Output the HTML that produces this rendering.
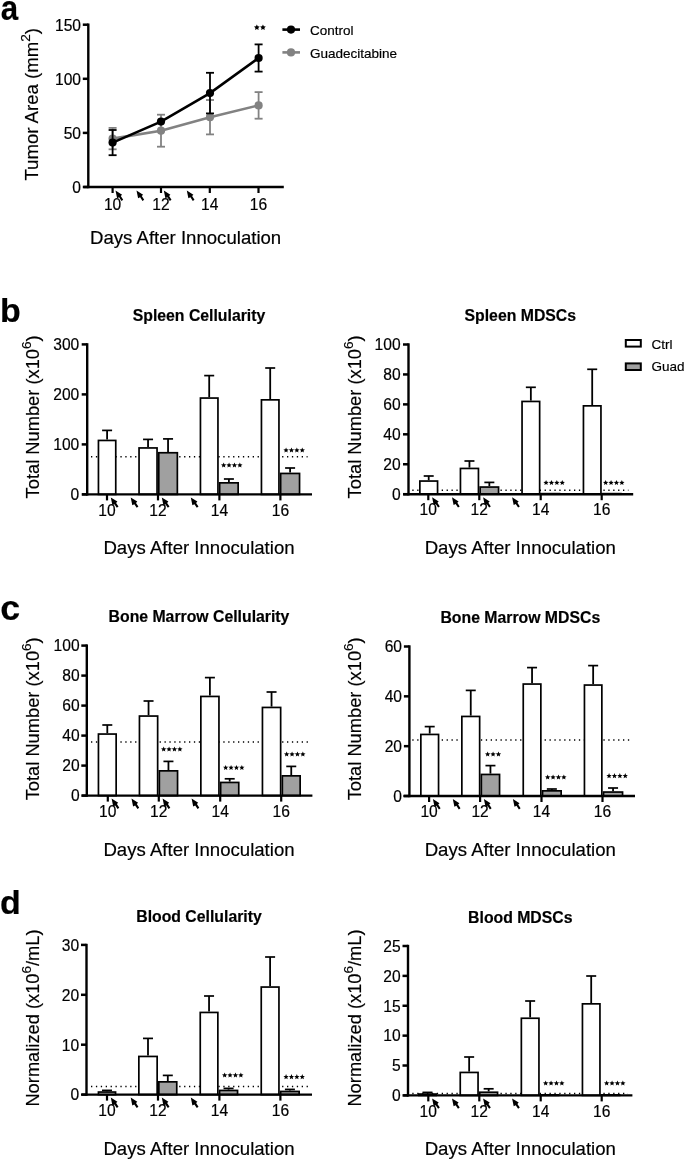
<!DOCTYPE html>
<html><head><meta charset="utf-8"><title>Figure</title>
<style>
html,body{margin:0;padding:0;background:#fff;width:685px;height:1160px;overflow:hidden}
svg{display:block;font-family:"Liberation Sans", sans-serif;fill:#000;filter:grayscale(1)}
text{fill:#000;stroke:#000;stroke-width:0.18px}
</style></head><body>
<svg width="685" height="1160" viewBox="0 0 685 1160">
<rect width="685" height="1160" fill="#fff"/>
<text transform="translate(0.7,19.9) scale(0.92,1.04)" x="0" y="0" font-size="34" font-weight="bold">a</text>
<text x="0" y="322" font-size="34" text-anchor="start" font-weight="bold" >b</text>
<text transform="translate(0.2,620) scale(1.05,1.05)" x="0" y="0" font-size="34" font-weight="bold">c</text>
<text x="0" y="914" font-size="34" text-anchor="start" font-weight="bold" >d</text>
<line x1="88.3" y1="23.5" x2="88.3" y2="188.2" stroke="#000" stroke-width="2.4" />
<line x1="82.8" y1="24.7" x2="88.3" y2="24.7" stroke="#000" stroke-width="2.5" />
<text x="81.0" y="30.5" font-size="15.6" text-anchor="end" font-weight="normal" >150</text>
<line x1="82.8" y1="78.8" x2="88.3" y2="78.8" stroke="#000" stroke-width="2.5" />
<text x="81.0" y="84.6" font-size="15.6" text-anchor="end" font-weight="normal" >100</text>
<line x1="82.8" y1="132.9" x2="88.3" y2="132.9" stroke="#000" stroke-width="2.5" />
<text x="81.0" y="138.7" font-size="15.6" text-anchor="end" font-weight="normal" >50</text>
<line x1="82.8" y1="187.0" x2="88.3" y2="187.0" stroke="#000" stroke-width="2.5" />
<text x="81.0" y="192.8" font-size="15.6" text-anchor="end" font-weight="normal" >0</text>
<line x1="83.5" y1="187.0" x2="283.8" y2="187.0" stroke="#000" stroke-width="2.4" />
<line x1="112.6" y1="187.0" x2="112.6" y2="193.0" stroke="#000" stroke-width="2.2" />
<text x="112.6" y="209.6" font-size="15.6" text-anchor="middle" font-weight="normal" >10</text>
<line x1="161" y1="187.0" x2="161" y2="193.0" stroke="#000" stroke-width="2.2" />
<text x="161" y="209.6" font-size="15.6" text-anchor="middle" font-weight="normal" >12</text>
<line x1="209.8" y1="187.0" x2="209.8" y2="193.0" stroke="#000" stroke-width="2.2" />
<text x="209.8" y="209.6" font-size="15.6" text-anchor="middle" font-weight="normal" >14</text>
<line x1="258.5" y1="187.0" x2="258.5" y2="193.0" stroke="#000" stroke-width="2.2" />
<text x="258.5" y="209.6" font-size="15.6" text-anchor="middle" font-weight="normal" >16</text>
<text transform="translate(38.2,104.3) rotate(-90)" x="0" y="0" font-size="18.6" text-anchor="middle">Tumor Area (mm<tspan font-size="13.5" dy="-7.8">2</tspan><tspan dy="7.8">)</tspan></text>
<text x="185.6" y="244" font-size="18.6" text-anchor="middle" font-weight="normal" >Days After Innoculation</text>
<path transform="translate(115.5,190.5)" d="M0,0 L6.6,4.2 L5.3,5.5 L7.7,9.2 L6.0,10.4 L3.6,6.8 L1.6,7.8 Z" fill="#000"/>
<path transform="translate(136.5,190.5)" d="M0,0 L6.6,4.2 L5.3,5.5 L7.7,9.2 L6.0,10.4 L3.6,6.8 L1.6,7.8 Z" fill="#000"/>
<path transform="translate(163.8,190.5)" d="M0,0 L6.6,4.2 L5.3,5.5 L7.7,9.2 L6.0,10.4 L3.6,6.8 L1.6,7.8 Z" fill="#000"/>
<path transform="translate(186.8,190.5)" d="M0,0 L6.6,4.2 L5.3,5.5 L7.7,9.2 L6.0,10.4 L3.6,6.8 L1.6,7.8 Z" fill="#000"/>
<line x1="112.6" y1="127.9" x2="112.6" y2="149.3" stroke="#828282" stroke-width="1.8" />
<line x1="108.6" y1="127.9" x2="116.6" y2="127.9" stroke="#828282" stroke-width="1.8" />
<line x1="108.6" y1="149.3" x2="116.6" y2="149.3" stroke="#828282" stroke-width="1.8" />
<line x1="161" y1="114.7" x2="161" y2="146.7" stroke="#828282" stroke-width="1.8" />
<line x1="157" y1="114.7" x2="165" y2="114.7" stroke="#828282" stroke-width="1.8" />
<line x1="157" y1="146.7" x2="165" y2="146.7" stroke="#828282" stroke-width="1.8" />
<line x1="210" y1="100.0" x2="210" y2="134.4" stroke="#828282" stroke-width="1.8" />
<line x1="206" y1="100.0" x2="214" y2="100.0" stroke="#828282" stroke-width="1.8" />
<line x1="206" y1="134.4" x2="214" y2="134.4" stroke="#828282" stroke-width="1.8" />
<line x1="258.6" y1="92.1" x2="258.6" y2="118.7" stroke="#828282" stroke-width="1.8" />
<line x1="254.6" y1="92.1" x2="262.6" y2="92.1" stroke="#828282" stroke-width="1.8" />
<line x1="254.6" y1="118.7" x2="262.6" y2="118.7" stroke="#828282" stroke-width="1.8" />
<path d="M112.6,138.6 L161,130.7 L210,117.2 L258.6,105.4" fill="none" stroke="#828282" stroke-width="2.6"/>
<circle cx="112.6" cy="138.6" r="4.1" fill="#828282"/>
<circle cx="161" cy="130.7" r="4.1" fill="#828282"/>
<circle cx="210" cy="117.2" r="4.1" fill="#828282"/>
<circle cx="258.6" cy="105.4" r="4.1" fill="#828282"/>
<line x1="112.6" y1="130.0" x2="112.6" y2="155.2" stroke="#000" stroke-width="1.8" />
<line x1="108.6" y1="130.0" x2="116.6" y2="130.0" stroke="#000" stroke-width="1.8" />
<line x1="108.6" y1="155.2" x2="116.6" y2="155.2" stroke="#000" stroke-width="1.8" />
<line x1="210" y1="72.8" x2="210" y2="113.4" stroke="#000" stroke-width="1.8" />
<line x1="206" y1="72.8" x2="214" y2="72.8" stroke="#000" stroke-width="1.8" />
<line x1="206" y1="113.4" x2="214" y2="113.4" stroke="#000" stroke-width="1.8" />
<line x1="258.6" y1="44.4" x2="258.6" y2="71.6" stroke="#000" stroke-width="1.8" />
<line x1="254.6" y1="44.4" x2="262.6" y2="44.4" stroke="#000" stroke-width="1.8" />
<line x1="254.6" y1="71.6" x2="262.6" y2="71.6" stroke="#000" stroke-width="1.8" />
<path d="M112.6,142.6 L161,121.6 L210,93.1 L258.6,58" fill="none" stroke="#000" stroke-width="2.6"/>
<circle cx="112.6" cy="142.6" r="4.1" fill="#000"/>
<circle cx="161" cy="121.6" r="4.1" fill="#000"/>
<circle cx="210" cy="93.1" r="4.1" fill="#000"/>
<circle cx="258.6" cy="58" r="4.1" fill="#000"/>
<polygon points="256.85,24.50 257.73,26.29 259.71,26.57 258.28,27.96 258.62,29.93 256.85,29.00 255.09,29.93 255.43,27.96 254.00,26.57 255.97,26.29" fill="#000"/>
<polygon points="262.95,24.50 263.83,26.29 265.81,26.57 264.38,27.96 264.72,29.93 262.95,29.00 261.19,29.93 261.53,27.96 260.10,26.57 262.07,26.29" fill="#000"/>
<line x1="282.4" y1="29.6" x2="300" y2="29.6" stroke="#000" stroke-width="2.6" />
<circle cx="291" cy="29.6" r="4.1" fill="#000"/>
<line x1="282.4" y1="52.4" x2="300" y2="52.4" stroke="#828282" stroke-width="2.6" />
<circle cx="291" cy="52.4" r="4.1" fill="#828282"/>
<text x="310" y="35" font-size="13.5" text-anchor="start" font-weight="normal" >Control</text>
<text x="310" y="57.6" font-size="13.5" text-anchor="start" font-weight="normal" >Guadecitabine</text>
<line x1="87.2" y1="343.2" x2="87.2" y2="495.6" stroke="#000" stroke-width="2.4" />
<line x1="81.7" y1="344.4" x2="87.2" y2="344.4" stroke="#000" stroke-width="2.5" />
<text x="79.3" y="350.2" font-size="15.6" text-anchor="end" font-weight="normal" >300</text>
<line x1="81.7" y1="394.4" x2="87.2" y2="394.4" stroke="#000" stroke-width="2.5" />
<text x="79.3" y="400.2" font-size="15.6" text-anchor="end" font-weight="normal" >200</text>
<line x1="81.7" y1="444.4" x2="87.2" y2="444.4" stroke="#000" stroke-width="2.5" />
<text x="79.3" y="450.2" font-size="15.6" text-anchor="end" font-weight="normal" >100</text>
<line x1="81.7" y1="494.4" x2="87.2" y2="494.4" stroke="#000" stroke-width="2.5" />
<text x="79.3" y="500.2" font-size="15.6" text-anchor="end" font-weight="normal" >0</text>
<line x1="91" y1="456.8" x2="307.6" y2="456.8" stroke="#000" stroke-width="1.5" stroke-dasharray="1.3 3.6"/>
<line x1="107.1" y1="439.6" x2="107.1" y2="430.4" stroke="#000" stroke-width="1.8" />
<line x1="102.1" y1="430.4" x2="112.1" y2="430.4" stroke="#000" stroke-width="1.7" />
<rect x="98.45" y="440.45" width="17.3" height="53.95" fill="#fff" stroke="#000" stroke-width="1.7"/>
<line x1="148.05" y1="447.1" x2="148.05" y2="439.4" stroke="#000" stroke-width="1.8" />
<line x1="143.05" y1="439.4" x2="153.05" y2="439.4" stroke="#000" stroke-width="1.7" />
<rect x="139.05" y="447.95" width="18" height="46.45" fill="#fff" stroke="#000" stroke-width="1.7"/>
<line x1="168.05" y1="451.9" x2="168.05" y2="438.9" stroke="#000" stroke-width="1.8" />
<line x1="163.05" y1="438.9" x2="173.05" y2="438.9" stroke="#000" stroke-width="1.7" />
<rect x="158.75" y="452.75" width="18.6" height="41.65" fill="#a0a0a0" stroke="#000" stroke-width="1.7"/>
<line x1="209.2" y1="397.2" x2="209.2" y2="375.6" stroke="#000" stroke-width="1.8" />
<line x1="204.2" y1="375.6" x2="214.2" y2="375.6" stroke="#000" stroke-width="1.7" />
<rect x="200.45" y="398.05" width="17.5" height="96.35" fill="#fff" stroke="#000" stroke-width="1.7"/>
<line x1="228.9" y1="482.0" x2="228.9" y2="479" stroke="#000" stroke-width="1.8" />
<line x1="223.9" y1="479" x2="233.9" y2="479" stroke="#000" stroke-width="1.7" />
<rect x="219.65" y="482.85" width="18.5" height="11.55" fill="#a0a0a0" stroke="#000" stroke-width="1.7"/>
<line x1="270.2" y1="399.0" x2="270.2" y2="368" stroke="#000" stroke-width="1.8" />
<line x1="265.2" y1="368" x2="275.2" y2="368" stroke="#000" stroke-width="1.7" />
<rect x="261.45" y="399.85" width="17.5" height="94.55" fill="#fff" stroke="#000" stroke-width="1.7"/>
<line x1="290.1" y1="472.6" x2="290.1" y2="468" stroke="#000" stroke-width="1.8" />
<line x1="285.1" y1="468" x2="295.1" y2="468" stroke="#000" stroke-width="1.7" />
<rect x="280.65" y="473.45" width="18.9" height="20.95" fill="#a0a0a0" stroke="#000" stroke-width="1.7"/>
<line x1="82" y1="494.4" x2="312" y2="494.4" stroke="#000" stroke-width="2.4" />
<line x1="107" y1="494.4" x2="107" y2="500.4" stroke="#000" stroke-width="2.2" />
<text x="107" y="515.6" font-size="15.6" text-anchor="middle" font-weight="normal" >10</text>
<line x1="158" y1="494.4" x2="158" y2="500.4" stroke="#000" stroke-width="2.2" />
<text x="158" y="515.6" font-size="15.6" text-anchor="middle" font-weight="normal" >12</text>
<line x1="219.4" y1="494.4" x2="219.4" y2="500.4" stroke="#000" stroke-width="2.2" />
<text x="219.4" y="515.6" font-size="15.6" text-anchor="middle" font-weight="normal" >14</text>
<line x1="280.4" y1="494.4" x2="280.4" y2="500.4" stroke="#000" stroke-width="2.2" />
<text x="280.4" y="515.6" font-size="15.6" text-anchor="middle" font-weight="normal" >16</text>
<path transform="translate(110.8,497.4)" d="M0,0 L6.6,4.2 L5.3,5.5 L7.7,9.2 L6.0,10.4 L3.6,6.8 L1.6,7.8 Z" fill="#000"/>
<path transform="translate(130.7,497.4)" d="M0,0 L6.6,4.2 L5.3,5.5 L7.7,9.2 L6.0,10.4 L3.6,6.8 L1.6,7.8 Z" fill="#000"/>
<path transform="translate(161.8,497.4)" d="M0,0 L6.6,4.2 L5.3,5.5 L7.7,9.2 L6.0,10.4 L3.6,6.8 L1.6,7.8 Z" fill="#000"/>
<path transform="translate(190.8,497.4)" d="M0,0 L6.6,4.2 L5.3,5.5 L7.7,9.2 L6.0,10.4 L3.6,6.8 L1.6,7.8 Z" fill="#000"/>
<polygon points="223.66,462.50 224.40,464.28 226.33,464.43 224.86,465.69 225.31,467.57 223.66,466.56 222.02,467.57 222.46,465.69 221.00,464.43 222.92,464.28" fill="#000"/>
<polygon points="229.06,462.50 229.80,464.28 231.73,464.43 230.26,465.69 230.71,467.57 229.06,466.56 227.42,467.57 227.86,465.69 226.40,464.43 228.32,464.28" fill="#000"/>
<polygon points="234.46,462.50 235.20,464.28 237.13,464.43 235.66,465.69 236.11,467.57 234.46,466.56 232.82,467.57 233.26,465.69 231.80,464.43 233.72,464.28" fill="#000"/>
<polygon points="239.86,462.50 240.60,464.28 242.53,464.43 241.06,465.69 241.51,467.57 239.86,466.56 238.22,467.57 238.66,465.69 237.20,464.43 239.12,464.28" fill="#000"/>
<polygon points="286.06,447.50 286.80,449.28 288.73,449.43 287.26,450.69 287.71,452.57 286.06,451.56 284.42,452.57 284.86,450.69 283.40,449.43 285.32,449.28" fill="#000"/>
<polygon points="291.46,447.50 292.20,449.28 294.13,449.43 292.66,450.69 293.11,452.57 291.46,451.56 289.82,452.57 290.26,450.69 288.80,449.43 290.72,449.28" fill="#000"/>
<polygon points="296.86,447.50 297.60,449.28 299.53,449.43 298.06,450.69 298.51,452.57 296.86,451.56 295.22,452.57 295.66,450.69 294.20,449.43 296.12,449.28" fill="#000"/>
<polygon points="302.26,447.50 303.00,449.28 304.93,449.43 303.46,450.69 303.91,452.57 302.26,451.56 300.62,452.57 301.06,450.69 299.60,449.43 301.52,449.28" fill="#000"/>
<text x="199" y="320.6" font-size="15.8" text-anchor="middle" font-weight="bold" >Spleen Cellularity</text>
<text x="199" y="553.5" font-size="18.6" text-anchor="middle" font-weight="normal" >Days After Innoculation</text>
<text transform="translate(39.2,416.9) rotate(-90)" x="0" y="0" font-size="18.3" text-anchor="middle">Total Number (x10<tspan font-size="13.5" dy="-7.8">6</tspan><tspan dy="7.8">)</tspan></text>
<line x1="408.5" y1="343.3" x2="408.5" y2="495.4" stroke="#000" stroke-width="2.4" />
<line x1="403.0" y1="344.5" x2="408.5" y2="344.5" stroke="#000" stroke-width="2.5" />
<text x="400.6" y="350.3" font-size="15.6" text-anchor="end" font-weight="normal" >100</text>
<line x1="403.0" y1="374.44" x2="408.5" y2="374.44" stroke="#000" stroke-width="2.5" />
<text x="400.6" y="380.24" font-size="15.6" text-anchor="end" font-weight="normal" >80</text>
<line x1="403.0" y1="404.38" x2="408.5" y2="404.38" stroke="#000" stroke-width="2.5" />
<text x="400.6" y="410.18" font-size="15.6" text-anchor="end" font-weight="normal" >60</text>
<line x1="403.0" y1="434.32" x2="408.5" y2="434.32" stroke="#000" stroke-width="2.5" />
<text x="400.6" y="440.12" font-size="15.6" text-anchor="end" font-weight="normal" >40</text>
<line x1="403.0" y1="464.26" x2="408.5" y2="464.26" stroke="#000" stroke-width="2.5" />
<text x="400.6" y="470.06" font-size="15.6" text-anchor="end" font-weight="normal" >20</text>
<line x1="403.0" y1="494.2" x2="408.5" y2="494.2" stroke="#000" stroke-width="2.5" />
<text x="400.6" y="500.0" font-size="15.6" text-anchor="end" font-weight="normal" >0</text>
<line x1="412.3" y1="490.3" x2="628.4" y2="490.3" stroke="#000" stroke-width="1.5" stroke-dasharray="1.3 3.6"/>
<line x1="428.7" y1="480.2" x2="428.7" y2="476" stroke="#000" stroke-width="1.8" />
<line x1="423.7" y1="476" x2="433.7" y2="476" stroke="#000" stroke-width="1.7" />
<rect x="419.85" y="481.05" width="17.7" height="13.15" fill="#fff" stroke="#000" stroke-width="1.7"/>
<line x1="469.45" y1="467.6" x2="469.45" y2="461" stroke="#000" stroke-width="1.8" />
<line x1="464.45" y1="461" x2="474.45" y2="461" stroke="#000" stroke-width="1.7" />
<rect x="460.45" y="468.45" width="18" height="25.75" fill="#fff" stroke="#000" stroke-width="1.7"/>
<line x1="489.35" y1="486.2" x2="489.35" y2="482.4" stroke="#000" stroke-width="1.8" />
<line x1="484.35" y1="482.4" x2="494.35" y2="482.4" stroke="#000" stroke-width="1.7" />
<rect x="480.15" y="487.05" width="18.4" height="7.15" fill="#a0a0a0" stroke="#000" stroke-width="1.7"/>
<line x1="530.85" y1="400.6" x2="530.85" y2="387.3" stroke="#000" stroke-width="1.8" />
<line x1="525.85" y1="387.3" x2="535.85" y2="387.3" stroke="#000" stroke-width="1.7" />
<rect x="522.05" y="401.45" width="17.6" height="92.75" fill="#fff" stroke="#000" stroke-width="1.7"/>
<rect x="541.35" y="493.65" width="18.3" height="0.55" fill="#a0a0a0" stroke="#000" stroke-width="1.7"/>
<line x1="592.2" y1="405.0" x2="592.2" y2="369.3" stroke="#000" stroke-width="1.8" />
<line x1="587.2" y1="369.3" x2="597.2" y2="369.3" stroke="#000" stroke-width="1.7" />
<rect x="583.45" y="405.85" width="17.5" height="88.35" fill="#fff" stroke="#000" stroke-width="1.7"/>
<rect x="602.65" y="493.65" width="18.3" height="0.55" fill="#a0a0a0" stroke="#000" stroke-width="1.7"/>
<line x1="403.3" y1="494.2" x2="633.2" y2="494.2" stroke="#000" stroke-width="2.4" />
<line x1="428.3" y1="494.2" x2="428.3" y2="500.2" stroke="#000" stroke-width="2.2" />
<text x="428.3" y="515.4" font-size="15.6" text-anchor="middle" font-weight="normal" >10</text>
<line x1="479.3" y1="494.2" x2="479.3" y2="500.2" stroke="#000" stroke-width="2.2" />
<text x="479.3" y="515.4" font-size="15.6" text-anchor="middle" font-weight="normal" >12</text>
<line x1="540.7" y1="494.2" x2="540.7" y2="500.2" stroke="#000" stroke-width="2.2" />
<text x="540.7" y="515.4" font-size="15.6" text-anchor="middle" font-weight="normal" >14</text>
<line x1="601.7" y1="494.2" x2="601.7" y2="500.2" stroke="#000" stroke-width="2.2" />
<text x="601.7" y="515.4" font-size="15.6" text-anchor="middle" font-weight="normal" >16</text>
<path transform="translate(432.1,497.2)" d="M0,0 L6.6,4.2 L5.3,5.5 L7.7,9.2 L6.0,10.4 L3.6,6.8 L1.6,7.8 Z" fill="#000"/>
<path transform="translate(452.0,497.2)" d="M0,0 L6.6,4.2 L5.3,5.5 L7.7,9.2 L6.0,10.4 L3.6,6.8 L1.6,7.8 Z" fill="#000"/>
<path transform="translate(483.1,497.2)" d="M0,0 L6.6,4.2 L5.3,5.5 L7.7,9.2 L6.0,10.4 L3.6,6.8 L1.6,7.8 Z" fill="#000"/>
<path transform="translate(512.1,497.2)" d="M0,0 L6.6,4.2 L5.3,5.5 L7.7,9.2 L6.0,10.4 L3.6,6.8 L1.6,7.8 Z" fill="#000"/>
<polygon points="546.06,480.00 546.80,481.78 548.73,481.93 547.26,483.19 547.71,485.07 546.06,484.06 544.42,485.07 544.86,483.19 543.40,481.93 545.32,481.78" fill="#000"/>
<polygon points="551.46,480.00 552.20,481.78 554.13,481.93 552.66,483.19 553.11,485.07 551.46,484.06 549.82,485.07 550.26,483.19 548.80,481.93 550.72,481.78" fill="#000"/>
<polygon points="556.86,480.00 557.60,481.78 559.53,481.93 558.06,483.19 558.51,485.07 556.86,484.06 555.22,485.07 555.66,483.19 554.20,481.93 556.12,481.78" fill="#000"/>
<polygon points="562.26,480.00 563.00,481.78 564.93,481.93 563.46,483.19 563.91,485.07 562.26,484.06 560.62,485.07 561.06,483.19 559.60,481.93 561.52,481.78" fill="#000"/>
<polygon points="605.66,480.00 606.40,481.78 608.33,481.93 606.86,483.19 607.31,485.07 605.66,484.06 604.02,485.07 604.46,483.19 603.00,481.93 604.92,481.78" fill="#000"/>
<polygon points="611.06,480.00 611.80,481.78 613.73,481.93 612.26,483.19 612.71,485.07 611.06,484.06 609.42,485.07 609.86,483.19 608.40,481.93 610.32,481.78" fill="#000"/>
<polygon points="616.46,480.00 617.20,481.78 619.13,481.93 617.66,483.19 618.11,485.07 616.46,484.06 614.82,485.07 615.26,483.19 613.80,481.93 615.72,481.78" fill="#000"/>
<polygon points="621.86,480.00 622.60,481.78 624.53,481.93 623.06,483.19 623.51,485.07 621.86,484.06 620.22,485.07 620.66,483.19 619.20,481.93 621.12,481.78" fill="#000"/>
<text x="520.3" y="321.2" font-size="15.8" text-anchor="middle" font-weight="bold" >Spleen MDSCs</text>
<text x="520.3" y="553.5" font-size="18.6" text-anchor="middle" font-weight="normal" >Days After Innoculation</text>
<text transform="translate(360.5,416.9) rotate(-90)" x="0" y="0" font-size="18.3" text-anchor="middle">Total Number (x10<tspan font-size="13.5" dy="-7.8">6</tspan><tspan dy="7.8">)</tspan></text>
<rect x="625.8" y="340" width="15" height="6.6" fill="#fff" stroke="#000" stroke-width="2"/>
<rect x="625.8" y="363.4" width="15" height="6.6" fill="#a0a0a0" stroke="#000" stroke-width="2"/>
<text x="651.5" y="348.8" font-size="13.5" text-anchor="start" font-weight="normal" >Ctrl</text>
<text x="651.5" y="371" font-size="13.5" text-anchor="start" font-weight="normal" >Guad</text>
<line x1="86.8" y1="644.4" x2="86.8" y2="796.8" stroke="#000" stroke-width="2.4" />
<line x1="81.3" y1="645.6" x2="86.8" y2="645.6" stroke="#000" stroke-width="2.5" />
<text x="79.6" y="651.4" font-size="15.6" text-anchor="end" font-weight="normal" >100</text>
<line x1="81.3" y1="675.6" x2="86.8" y2="675.6" stroke="#000" stroke-width="2.5" />
<text x="79.6" y="681.4" font-size="15.6" text-anchor="end" font-weight="normal" >80</text>
<line x1="81.3" y1="705.6" x2="86.8" y2="705.6" stroke="#000" stroke-width="2.5" />
<text x="79.6" y="711.4" font-size="15.6" text-anchor="end" font-weight="normal" >60</text>
<line x1="81.3" y1="735.6" x2="86.8" y2="735.6" stroke="#000" stroke-width="2.5" />
<text x="79.6" y="741.4" font-size="15.6" text-anchor="end" font-weight="normal" >40</text>
<line x1="81.3" y1="765.6" x2="86.8" y2="765.6" stroke="#000" stroke-width="2.5" />
<text x="79.6" y="771.4" font-size="15.6" text-anchor="end" font-weight="normal" >20</text>
<line x1="81.3" y1="795.6" x2="86.8" y2="795.6" stroke="#000" stroke-width="2.5" />
<text x="79.6" y="801.4" font-size="15.6" text-anchor="end" font-weight="normal" >0</text>
<line x1="91" y1="742" x2="308.4" y2="742" stroke="#000" stroke-width="1.5" stroke-dasharray="1.3 3.6"/>
<line x1="107.3" y1="733.2" x2="107.3" y2="725" stroke="#000" stroke-width="1.8" />
<line x1="102.3" y1="725" x2="112.3" y2="725" stroke="#000" stroke-width="1.7" />
<rect x="98.45" y="734.05" width="17.7" height="61.55" fill="#fff" stroke="#000" stroke-width="1.7"/>
<line x1="148.55" y1="715.2" x2="148.55" y2="701" stroke="#000" stroke-width="1.8" />
<line x1="143.55" y1="701" x2="153.55" y2="701" stroke="#000" stroke-width="1.7" />
<rect x="139.45" y="716.05" width="18.2" height="79.55" fill="#fff" stroke="#000" stroke-width="1.7"/>
<line x1="168.45" y1="770.0" x2="168.45" y2="761.4" stroke="#000" stroke-width="1.8" />
<line x1="163.45" y1="761.4" x2="173.45" y2="761.4" stroke="#000" stroke-width="1.7" />
<rect x="159.35" y="770.85" width="18.2" height="24.75" fill="#a0a0a0" stroke="#000" stroke-width="1.7"/>
<line x1="209.9" y1="695.6" x2="209.9" y2="677.6" stroke="#000" stroke-width="1.8" />
<line x1="204.9" y1="677.6" x2="214.9" y2="677.6" stroke="#000" stroke-width="1.7" />
<rect x="200.85" y="696.45" width="18.1" height="99.15" fill="#fff" stroke="#000" stroke-width="1.7"/>
<line x1="229.7" y1="781.6" x2="229.7" y2="778.8" stroke="#000" stroke-width="1.8" />
<line x1="224.7" y1="778.8" x2="234.7" y2="778.8" stroke="#000" stroke-width="1.7" />
<rect x="220.65" y="782.45" width="18.1" height="13.15" fill="#a0a0a0" stroke="#000" stroke-width="1.7"/>
<line x1="271.55" y1="706.6" x2="271.55" y2="692" stroke="#000" stroke-width="1.8" />
<line x1="266.55" y1="692" x2="276.55" y2="692" stroke="#000" stroke-width="1.7" />
<rect x="262.45" y="707.45" width="18.2" height="88.15" fill="#fff" stroke="#000" stroke-width="1.7"/>
<line x1="291.25" y1="775.0" x2="291.25" y2="766.4" stroke="#000" stroke-width="1.8" />
<line x1="286.25" y1="766.4" x2="296.25" y2="766.4" stroke="#000" stroke-width="1.7" />
<rect x="282.35" y="775.85" width="17.8" height="19.75" fill="#a0a0a0" stroke="#000" stroke-width="1.7"/>
<line x1="82" y1="795.6" x2="312.4" y2="795.6" stroke="#000" stroke-width="2.4" />
<line x1="107.8" y1="795.6" x2="107.8" y2="801.6" stroke="#000" stroke-width="2.2" />
<text x="107.8" y="816.8" font-size="15.6" text-anchor="middle" font-weight="normal" >10</text>
<line x1="158.8" y1="795.6" x2="158.8" y2="801.6" stroke="#000" stroke-width="2.2" />
<text x="158.8" y="816.8" font-size="15.6" text-anchor="middle" font-weight="normal" >12</text>
<line x1="220.2" y1="795.6" x2="220.2" y2="801.6" stroke="#000" stroke-width="2.2" />
<text x="220.2" y="816.8" font-size="15.6" text-anchor="middle" font-weight="normal" >14</text>
<line x1="281.2" y1="795.6" x2="281.2" y2="801.6" stroke="#000" stroke-width="2.2" />
<text x="281.2" y="816.8" font-size="15.6" text-anchor="middle" font-weight="normal" >16</text>
<path transform="translate(111.6,798.6)" d="M0,0 L6.6,4.2 L5.3,5.5 L7.7,9.2 L6.0,10.4 L3.6,6.8 L1.6,7.8 Z" fill="#000"/>
<path transform="translate(131.5,798.6)" d="M0,0 L6.6,4.2 L5.3,5.5 L7.7,9.2 L6.0,10.4 L3.6,6.8 L1.6,7.8 Z" fill="#000"/>
<path transform="translate(162.6,798.6)" d="M0,0 L6.6,4.2 L5.3,5.5 L7.7,9.2 L6.0,10.4 L3.6,6.8 L1.6,7.8 Z" fill="#000"/>
<path transform="translate(191.6,798.6)" d="M0,0 L6.6,4.2 L5.3,5.5 L7.7,9.2 L6.0,10.4 L3.6,6.8 L1.6,7.8 Z" fill="#000"/>
<polygon points="163.66,746.50 164.40,748.28 166.33,748.43 164.86,749.69 165.31,751.57 163.66,750.56 162.02,751.57 162.46,749.69 161.00,748.43 162.92,748.28" fill="#000"/>
<polygon points="169.06,746.50 169.80,748.28 171.73,748.43 170.26,749.69 170.71,751.57 169.06,750.56 167.42,751.57 167.86,749.69 166.40,748.43 168.32,748.28" fill="#000"/>
<polygon points="174.46,746.50 175.20,748.28 177.13,748.43 175.66,749.69 176.11,751.57 174.46,750.56 172.82,751.57 173.26,749.69 171.80,748.43 173.72,748.28" fill="#000"/>
<polygon points="179.86,746.50 180.60,748.28 182.53,748.43 181.06,749.69 181.51,751.57 179.86,750.56 178.22,751.57 178.66,749.69 177.20,748.43 179.12,748.28" fill="#000"/>
<polygon points="225.66,764.90 226.40,766.68 228.33,766.83 226.86,768.09 227.31,769.97 225.66,768.96 224.02,769.97 224.46,768.09 223.00,766.83 224.92,766.68" fill="#000"/>
<polygon points="231.06,764.90 231.80,766.68 233.73,766.83 232.26,768.09 232.71,769.97 231.06,768.96 229.42,769.97 229.86,768.09 228.40,766.83 230.32,766.68" fill="#000"/>
<polygon points="236.46,764.90 237.20,766.68 239.13,766.83 237.66,768.09 238.11,769.97 236.46,768.96 234.82,769.97 235.26,768.09 233.80,766.83 235.72,766.68" fill="#000"/>
<polygon points="241.86,764.90 242.60,766.68 244.53,766.83 243.06,768.09 243.51,769.97 241.86,768.96 240.22,769.97 240.66,768.09 239.20,766.83 241.12,766.68" fill="#000"/>
<polygon points="286.66,751.50 287.40,753.28 289.33,753.43 287.86,754.69 288.31,756.57 286.66,755.56 285.02,756.57 285.46,754.69 284.00,753.43 285.92,753.28" fill="#000"/>
<polygon points="292.06,751.50 292.80,753.28 294.73,753.43 293.26,754.69 293.71,756.57 292.06,755.56 290.42,756.57 290.86,754.69 289.40,753.43 291.32,753.28" fill="#000"/>
<polygon points="297.46,751.50 298.20,753.28 300.13,753.43 298.66,754.69 299.11,756.57 297.46,755.56 295.82,756.57 296.26,754.69 294.80,753.43 296.72,753.28" fill="#000"/>
<polygon points="302.86,751.50 303.60,753.28 305.53,753.43 304.06,754.69 304.51,756.57 302.86,755.56 301.22,756.57 301.66,754.69 300.20,753.43 302.12,753.28" fill="#000"/>
<text x="199" y="621.9" font-size="15.8" text-anchor="middle" font-weight="bold" >Bone Marrow Cellularity</text>
<text x="199" y="856.4" font-size="18.6" text-anchor="middle" font-weight="normal" >Days After Innoculation</text>
<text transform="translate(39.2,718.8) rotate(-90)" x="0" y="0" font-size="18.3" text-anchor="middle">Total Number (x10<tspan font-size="13.5" dy="-7.8">6</tspan><tspan dy="7.8">)</tspan></text>
<line x1="409.4" y1="645.3" x2="409.4" y2="797.2" stroke="#000" stroke-width="2.4" />
<line x1="403.9" y1="646.5" x2="409.4" y2="646.5" stroke="#000" stroke-width="2.5" />
<text x="402" y="652.3" font-size="15.6" text-anchor="end" font-weight="normal" >60</text>
<line x1="403.9" y1="696.33" x2="409.4" y2="696.33" stroke="#000" stroke-width="2.5" />
<text x="402" y="702.13" font-size="15.6" text-anchor="end" font-weight="normal" >40</text>
<line x1="403.9" y1="746.17" x2="409.4" y2="746.17" stroke="#000" stroke-width="2.5" />
<text x="402" y="751.97" font-size="15.6" text-anchor="end" font-weight="normal" >20</text>
<line x1="403.9" y1="796.0" x2="409.4" y2="796.0" stroke="#000" stroke-width="2.5" />
<text x="402" y="801.8" font-size="15.6" text-anchor="end" font-weight="normal" >0</text>
<line x1="412.3" y1="740" x2="630" y2="740" stroke="#000" stroke-width="1.5" stroke-dasharray="1.3 3.6"/>
<line x1="429.7" y1="733.6" x2="429.7" y2="726.6" stroke="#000" stroke-width="1.8" />
<line x1="424.7" y1="726.6" x2="434.7" y2="726.6" stroke="#000" stroke-width="1.7" />
<rect x="420.85" y="734.45" width="17.7" height="61.55" fill="#fff" stroke="#000" stroke-width="1.7"/>
<line x1="470.75" y1="715.6" x2="470.75" y2="690.4" stroke="#000" stroke-width="1.8" />
<line x1="465.75" y1="690.4" x2="475.75" y2="690.4" stroke="#000" stroke-width="1.7" />
<rect x="461.85" y="716.45" width="17.8" height="79.55" fill="#fff" stroke="#000" stroke-width="1.7"/>
<line x1="490.45" y1="773.6" x2="490.45" y2="765.6" stroke="#000" stroke-width="1.8" />
<line x1="485.45" y1="765.6" x2="495.45" y2="765.6" stroke="#000" stroke-width="1.7" />
<rect x="481.35" y="774.45" width="18.2" height="21.55" fill="#a0a0a0" stroke="#000" stroke-width="1.7"/>
<line x1="532.05" y1="683.2" x2="532.05" y2="667.6" stroke="#000" stroke-width="1.8" />
<line x1="527.05" y1="667.6" x2="537.05" y2="667.6" stroke="#000" stroke-width="1.7" />
<rect x="523.25" y="684.05" width="17.6" height="111.95" fill="#fff" stroke="#000" stroke-width="1.7"/>
<line x1="551.85" y1="790.0" x2="551.85" y2="789" stroke="#000" stroke-width="1.8" />
<line x1="546.85" y1="789" x2="556.85" y2="789" stroke="#000" stroke-width="1.7" />
<rect x="542.55" y="790.85" width="18.6" height="5.15" fill="#a0a0a0" stroke="#000" stroke-width="1.7"/>
<line x1="593.15" y1="684.2" x2="593.15" y2="665.6" stroke="#000" stroke-width="1.8" />
<line x1="588.15" y1="665.6" x2="598.15" y2="665.6" stroke="#000" stroke-width="1.7" />
<rect x="584.45" y="685.05" width="17.4" height="110.95" fill="#fff" stroke="#000" stroke-width="1.7"/>
<line x1="613.05" y1="791.2" x2="613.05" y2="788" stroke="#000" stroke-width="1.8" />
<line x1="608.05" y1="788" x2="618.05" y2="788" stroke="#000" stroke-width="1.7" />
<rect x="603.55" y="792.05" width="19" height="3.95" fill="#a0a0a0" stroke="#000" stroke-width="1.7"/>
<line x1="403.3" y1="796" x2="635" y2="796" stroke="#000" stroke-width="2.4" />
<line x1="429.1" y1="796" x2="429.1" y2="802" stroke="#000" stroke-width="2.2" />
<text x="429.1" y="817.2" font-size="15.6" text-anchor="middle" font-weight="normal" >10</text>
<line x1="480.1" y1="796" x2="480.1" y2="802" stroke="#000" stroke-width="2.2" />
<text x="480.1" y="817.2" font-size="15.6" text-anchor="middle" font-weight="normal" >12</text>
<line x1="541.5" y1="796" x2="541.5" y2="802" stroke="#000" stroke-width="2.2" />
<text x="541.5" y="817.2" font-size="15.6" text-anchor="middle" font-weight="normal" >14</text>
<line x1="602.5" y1="796" x2="602.5" y2="802" stroke="#000" stroke-width="2.2" />
<text x="602.5" y="817.2" font-size="15.6" text-anchor="middle" font-weight="normal" >16</text>
<path transform="translate(432.9,799)" d="M0,0 L6.6,4.2 L5.3,5.5 L7.7,9.2 L6.0,10.4 L3.6,6.8 L1.6,7.8 Z" fill="#000"/>
<path transform="translate(452.8,799)" d="M0,0 L6.6,4.2 L5.3,5.5 L7.7,9.2 L6.0,10.4 L3.6,6.8 L1.6,7.8 Z" fill="#000"/>
<path transform="translate(483.9,799)" d="M0,0 L6.6,4.2 L5.3,5.5 L7.7,9.2 L6.0,10.4 L3.6,6.8 L1.6,7.8 Z" fill="#000"/>
<path transform="translate(512.9,799)" d="M0,0 L6.6,4.2 L5.3,5.5 L7.7,9.2 L6.0,10.4 L3.6,6.8 L1.6,7.8 Z" fill="#000"/>
<polygon points="487.66,751.50 488.40,753.28 490.33,753.43 488.86,754.69 489.31,756.57 487.66,755.56 486.02,756.57 486.46,754.69 485.00,753.43 486.92,753.28" fill="#000"/>
<polygon points="493.06,751.50 493.80,753.28 495.73,753.43 494.26,754.69 494.71,756.57 493.06,755.56 491.42,756.57 491.86,754.69 490.40,753.43 492.32,753.28" fill="#000"/>
<polygon points="498.46,751.50 499.20,753.28 501.13,753.43 499.66,754.69 500.11,756.57 498.46,755.56 496.82,756.57 497.26,754.69 495.80,753.43 497.72,753.28" fill="#000"/>
<polygon points="547.66,774.50 548.40,776.28 550.33,776.43 548.86,777.69 549.31,779.57 547.66,778.56 546.02,779.57 546.46,777.69 545.00,776.43 546.92,776.28" fill="#000"/>
<polygon points="553.06,774.50 553.80,776.28 555.73,776.43 554.26,777.69 554.71,779.57 553.06,778.56 551.42,779.57 551.86,777.69 550.40,776.43 552.32,776.28" fill="#000"/>
<polygon points="558.46,774.50 559.20,776.28 561.13,776.43 559.66,777.69 560.11,779.57 558.46,778.56 556.82,779.57 557.26,777.69 555.80,776.43 557.72,776.28" fill="#000"/>
<polygon points="563.86,774.50 564.60,776.28 566.53,776.43 565.06,777.69 565.51,779.57 563.86,778.56 562.22,779.57 562.66,777.69 561.20,776.43 563.12,776.28" fill="#000"/>
<polygon points="609.06,773.10 609.80,774.88 611.73,775.03 610.26,776.29 610.71,778.17 609.06,777.16 607.42,778.17 607.86,776.29 606.40,775.03 608.32,774.88" fill="#000"/>
<polygon points="614.46,773.10 615.20,774.88 617.13,775.03 615.66,776.29 616.11,778.17 614.46,777.16 612.82,778.17 613.26,776.29 611.80,775.03 613.72,774.88" fill="#000"/>
<polygon points="619.86,773.10 620.60,774.88 622.53,775.03 621.06,776.29 621.51,778.17 619.86,777.16 618.22,778.17 618.66,776.29 617.20,775.03 619.12,774.88" fill="#000"/>
<polygon points="625.26,773.10 626.00,774.88 627.93,775.03 626.46,776.29 626.91,778.17 625.26,777.16 623.62,778.17 624.06,776.29 622.60,775.03 624.52,774.88" fill="#000"/>
<text x="520.3" y="622.8" font-size="15.8" text-anchor="middle" font-weight="bold" >Bone Marrow MDSCs</text>
<text x="520.3" y="856.4" font-size="18.6" text-anchor="middle" font-weight="normal" >Days After Innoculation</text>
<text transform="translate(360.5,718.8) rotate(-90)" x="0" y="0" font-size="18.3" text-anchor="middle">Total Number (x10<tspan font-size="13.5" dy="-7.8">6</tspan><tspan dy="7.8">)</tspan></text>
<line x1="86.5" y1="943.8" x2="86.5" y2="1095.8" stroke="#000" stroke-width="2.4" />
<line x1="81.0" y1="944.9" x2="86.5" y2="944.9" stroke="#000" stroke-width="2.5" />
<text x="79.2" y="950.7" font-size="15.6" text-anchor="end" font-weight="normal" >30</text>
<line x1="81.0" y1="994.8" x2="86.5" y2="994.8" stroke="#000" stroke-width="2.5" />
<text x="79.2" y="1000.6" font-size="15.6" text-anchor="end" font-weight="normal" >20</text>
<line x1="81.0" y1="1044.7" x2="86.5" y2="1044.7" stroke="#000" stroke-width="2.5" />
<text x="79.2" y="1050.5" font-size="15.6" text-anchor="end" font-weight="normal" >10</text>
<line x1="81.0" y1="1094.6" x2="86.5" y2="1094.6" stroke="#000" stroke-width="2.5" />
<text x="79.2" y="1100.4" font-size="15.6" text-anchor="end" font-weight="normal" >0</text>
<line x1="91" y1="1086.5" x2="308" y2="1086.5" stroke="#000" stroke-width="1.5" stroke-dasharray="1.3 3.6"/>
<line x1="107.0" y1="1091.2" x2="107.0" y2="1090.4" stroke="#000" stroke-width="1.8" />
<line x1="102.0" y1="1090.4" x2="112.0" y2="1090.4" stroke="#000" stroke-width="1.7" />
<rect x="98.45" y="1092.05" width="17.1" height="2.55" fill="#fff" stroke="#000" stroke-width="1.7"/>
<line x1="148.0" y1="1055.6" x2="148.0" y2="1038.4" stroke="#000" stroke-width="1.8" />
<line x1="143.0" y1="1038.4" x2="153.0" y2="1038.4" stroke="#000" stroke-width="1.7" />
<rect x="138.85" y="1056.45" width="18.3" height="38.15" fill="#fff" stroke="#000" stroke-width="1.7"/>
<line x1="167.8" y1="1081.0" x2="167.8" y2="1075.4" stroke="#000" stroke-width="1.8" />
<line x1="162.8" y1="1075.4" x2="172.8" y2="1075.4" stroke="#000" stroke-width="1.7" />
<rect x="158.85" y="1081.85" width="17.9" height="12.75" fill="#a0a0a0" stroke="#000" stroke-width="1.7"/>
<line x1="209.05" y1="1011.6" x2="209.05" y2="996" stroke="#000" stroke-width="1.8" />
<line x1="204.05" y1="996" x2="214.05" y2="996" stroke="#000" stroke-width="1.7" />
<rect x="200.25" y="1012.45" width="17.6" height="82.15" fill="#fff" stroke="#000" stroke-width="1.7"/>
<line x1="228.55" y1="1089.6" x2="228.55" y2="1088.4" stroke="#000" stroke-width="1.8" />
<line x1="223.55" y1="1088.4" x2="233.55" y2="1088.4" stroke="#000" stroke-width="1.7" />
<rect x="219.55" y="1090.45" width="18" height="4.15" fill="#a0a0a0" stroke="#000" stroke-width="1.7"/>
<line x1="270.1" y1="986.2" x2="270.1" y2="957" stroke="#000" stroke-width="1.8" />
<line x1="265.1" y1="957" x2="275.1" y2="957" stroke="#000" stroke-width="1.7" />
<rect x="261.25" y="987.05" width="17.7" height="107.55" fill="#fff" stroke="#000" stroke-width="1.7"/>
<line x1="289.9" y1="1090.6" x2="289.9" y2="1089.4" stroke="#000" stroke-width="1.8" />
<line x1="284.9" y1="1089.4" x2="294.9" y2="1089.4" stroke="#000" stroke-width="1.7" />
<rect x="280.65" y="1091.45" width="18.5" height="3.15" fill="#a0a0a0" stroke="#000" stroke-width="1.7"/>
<line x1="82" y1="1094.6" x2="312" y2="1094.6" stroke="#000" stroke-width="2.4" />
<line x1="107" y1="1094.6" x2="107" y2="1100.6" stroke="#000" stroke-width="2.2" />
<text x="107" y="1115.8" font-size="15.6" text-anchor="middle" font-weight="normal" >10</text>
<line x1="158" y1="1094.6" x2="158" y2="1100.6" stroke="#000" stroke-width="2.2" />
<text x="158" y="1115.8" font-size="15.6" text-anchor="middle" font-weight="normal" >12</text>
<line x1="219.4" y1="1094.6" x2="219.4" y2="1100.6" stroke="#000" stroke-width="2.2" />
<text x="219.4" y="1115.8" font-size="15.6" text-anchor="middle" font-weight="normal" >14</text>
<line x1="280.4" y1="1094.6" x2="280.4" y2="1100.6" stroke="#000" stroke-width="2.2" />
<text x="280.4" y="1115.8" font-size="15.6" text-anchor="middle" font-weight="normal" >16</text>
<path transform="translate(110.8,1097.6)" d="M0,0 L6.6,4.2 L5.3,5.5 L7.7,9.2 L6.0,10.4 L3.6,6.8 L1.6,7.8 Z" fill="#000"/>
<path transform="translate(130.7,1097.6)" d="M0,0 L6.6,4.2 L5.3,5.5 L7.7,9.2 L6.0,10.4 L3.6,6.8 L1.6,7.8 Z" fill="#000"/>
<path transform="translate(161.8,1097.6)" d="M0,0 L6.6,4.2 L5.3,5.5 L7.7,9.2 L6.0,10.4 L3.6,6.8 L1.6,7.8 Z" fill="#000"/>
<path transform="translate(190.8,1097.6)" d="M0,0 L6.6,4.2 L5.3,5.5 L7.7,9.2 L6.0,10.4 L3.6,6.8 L1.6,7.8 Z" fill="#000"/>
<polygon points="224.66,1072.50 225.40,1074.28 227.33,1074.43 225.86,1075.69 226.31,1077.57 224.66,1076.56 223.02,1077.57 223.46,1075.69 222.00,1074.43 223.92,1074.28" fill="#000"/>
<polygon points="230.06,1072.50 230.80,1074.28 232.73,1074.43 231.26,1075.69 231.71,1077.57 230.06,1076.56 228.42,1077.57 228.86,1075.69 227.40,1074.43 229.32,1074.28" fill="#000"/>
<polygon points="235.46,1072.50 236.20,1074.28 238.13,1074.43 236.66,1075.69 237.11,1077.57 235.46,1076.56 233.82,1077.57 234.26,1075.69 232.80,1074.43 234.72,1074.28" fill="#000"/>
<polygon points="240.86,1072.50 241.60,1074.28 243.53,1074.43 242.06,1075.69 242.51,1077.57 240.86,1076.56 239.22,1077.57 239.66,1075.69 238.20,1074.43 240.12,1074.28" fill="#000"/>
<polygon points="286.06,1074.10 286.80,1075.88 288.73,1076.03 287.26,1077.29 287.71,1079.17 286.06,1078.16 284.42,1079.17 284.86,1077.29 283.40,1076.03 285.32,1075.88" fill="#000"/>
<polygon points="291.46,1074.10 292.20,1075.88 294.13,1076.03 292.66,1077.29 293.11,1079.17 291.46,1078.16 289.82,1079.17 290.26,1077.29 288.80,1076.03 290.72,1075.88" fill="#000"/>
<polygon points="296.86,1074.10 297.60,1075.88 299.53,1076.03 298.06,1077.29 298.51,1079.17 296.86,1078.16 295.22,1079.17 295.66,1077.29 294.20,1076.03 296.12,1075.88" fill="#000"/>
<polygon points="302.26,1074.10 303.00,1075.88 304.93,1076.03 303.46,1077.29 303.91,1079.17 302.26,1078.16 300.62,1079.17 301.06,1077.29 299.60,1076.03 301.52,1075.88" fill="#000"/>
<text x="199" y="921.9" font-size="15.8" text-anchor="middle" font-weight="bold" >Blood Cellularity</text>
<text x="199" y="1155" font-size="18.6" text-anchor="middle" font-weight="normal" >Days After Innoculation</text>
<text transform="translate(39.2,1018) rotate(-90)" x="0" y="0" font-size="18.3" text-anchor="middle">Normalized (x10<tspan font-size="13.5" dy="-7.8">6</tspan><tspan dy="7.8">/mL)</tspan></text>
<line x1="408.0" y1="944.8" x2="408.0" y2="1096.6" stroke="#000" stroke-width="2.4" />
<line x1="402.5" y1="946" x2="408.0" y2="946" stroke="#000" stroke-width="2.5" />
<text x="400.6" y="951.8" font-size="15.6" text-anchor="end" font-weight="normal" >25</text>
<line x1="402.5" y1="975.88" x2="408.0" y2="975.88" stroke="#000" stroke-width="2.5" />
<text x="400.6" y="981.68" font-size="15.6" text-anchor="end" font-weight="normal" >20</text>
<line x1="402.5" y1="1005.76" x2="408.0" y2="1005.76" stroke="#000" stroke-width="2.5" />
<text x="400.6" y="1011.56" font-size="15.6" text-anchor="end" font-weight="normal" >15</text>
<line x1="402.5" y1="1035.64" x2="408.0" y2="1035.64" stroke="#000" stroke-width="2.5" />
<text x="400.6" y="1041.44" font-size="15.6" text-anchor="end" font-weight="normal" >10</text>
<line x1="402.5" y1="1065.52" x2="408.0" y2="1065.52" stroke="#000" stroke-width="2.5" />
<text x="400.6" y="1071.32" font-size="15.6" text-anchor="end" font-weight="normal" >5</text>
<line x1="402.5" y1="1095.4" x2="408.0" y2="1095.4" stroke="#000" stroke-width="2.5" />
<text x="400.6" y="1101.2" font-size="15.6" text-anchor="end" font-weight="normal" >0</text>
<line x1="412.3" y1="1093.6" x2="628" y2="1093.6" stroke="#000" stroke-width="1.5" stroke-dasharray="1.3 3.6"/>
<line x1="427.5" y1="1093.2" x2="427.5" y2="1092.4" stroke="#000" stroke-width="1.8" />
<line x1="422.5" y1="1092.4" x2="432.5" y2="1092.4" stroke="#000" stroke-width="1.7" />
<rect x="418.85" y="1094.05" width="17.3" height="1.35" fill="#fff" stroke="#000" stroke-width="1.7"/>
<line x1="469.15" y1="1071.6" x2="469.15" y2="1057" stroke="#000" stroke-width="1.8" />
<line x1="464.15" y1="1057" x2="474.15" y2="1057" stroke="#000" stroke-width="1.7" />
<rect x="460.25" y="1072.45" width="17.8" height="22.95" fill="#fff" stroke="#000" stroke-width="1.7"/>
<line x1="488.65" y1="1091.4" x2="488.65" y2="1088.8" stroke="#000" stroke-width="1.8" />
<line x1="483.65" y1="1088.8" x2="493.65" y2="1088.8" stroke="#000" stroke-width="1.7" />
<rect x="479.75" y="1092.25" width="17.8" height="3.15" fill="#a0a0a0" stroke="#000" stroke-width="1.7"/>
<line x1="530.15" y1="1017.4" x2="530.15" y2="1001" stroke="#000" stroke-width="1.8" />
<line x1="525.15" y1="1001" x2="535.15" y2="1001" stroke="#000" stroke-width="1.7" />
<rect x="521.35" y="1018.25" width="17.6" height="77.15" fill="#fff" stroke="#000" stroke-width="1.7"/>
<rect x="540.65" y="1094.85" width="18" height="0.55" fill="#a0a0a0" stroke="#000" stroke-width="1.7"/>
<line x1="591.2" y1="1003.0" x2="591.2" y2="976" stroke="#000" stroke-width="1.8" />
<line x1="586.2" y1="976" x2="596.2" y2="976" stroke="#000" stroke-width="1.7" />
<rect x="582.45" y="1003.85" width="17.5" height="91.55" fill="#fff" stroke="#000" stroke-width="1.7"/>
<rect x="601.65" y="1094.85" width="18" height="0.55" fill="#a0a0a0" stroke="#000" stroke-width="1.7"/>
<line x1="403.3" y1="1095.4" x2="632.4" y2="1095.4" stroke="#000" stroke-width="2.4" />
<line x1="428.3" y1="1095.4" x2="428.3" y2="1101.4" stroke="#000" stroke-width="2.2" />
<text x="428.3" y="1116.6" font-size="15.6" text-anchor="middle" font-weight="normal" >10</text>
<line x1="479.3" y1="1095.4" x2="479.3" y2="1101.4" stroke="#000" stroke-width="2.2" />
<text x="479.3" y="1116.6" font-size="15.6" text-anchor="middle" font-weight="normal" >12</text>
<line x1="540.7" y1="1095.4" x2="540.7" y2="1101.4" stroke="#000" stroke-width="2.2" />
<text x="540.7" y="1116.6" font-size="15.6" text-anchor="middle" font-weight="normal" >14</text>
<line x1="601.7" y1="1095.4" x2="601.7" y2="1101.4" stroke="#000" stroke-width="2.2" />
<text x="601.7" y="1116.6" font-size="15.6" text-anchor="middle" font-weight="normal" >16</text>
<path transform="translate(432.1,1098.4)" d="M0,0 L6.6,4.2 L5.3,5.5 L7.7,9.2 L6.0,10.4 L3.6,6.8 L1.6,7.8 Z" fill="#000"/>
<path transform="translate(452.0,1098.4)" d="M0,0 L6.6,4.2 L5.3,5.5 L7.7,9.2 L6.0,10.4 L3.6,6.8 L1.6,7.8 Z" fill="#000"/>
<path transform="translate(483.1,1098.4)" d="M0,0 L6.6,4.2 L5.3,5.5 L7.7,9.2 L6.0,10.4 L3.6,6.8 L1.6,7.8 Z" fill="#000"/>
<path transform="translate(512.1,1098.4)" d="M0,0 L6.6,4.2 L5.3,5.5 L7.7,9.2 L6.0,10.4 L3.6,6.8 L1.6,7.8 Z" fill="#000"/>
<polygon points="545.66,1080.50 546.40,1082.28 548.33,1082.43 546.86,1083.69 547.31,1085.57 545.66,1084.56 544.02,1085.57 544.46,1083.69 543.00,1082.43 544.92,1082.28" fill="#000"/>
<polygon points="551.06,1080.50 551.80,1082.28 553.73,1082.43 552.26,1083.69 552.71,1085.57 551.06,1084.56 549.42,1085.57 549.86,1083.69 548.40,1082.43 550.32,1082.28" fill="#000"/>
<polygon points="556.46,1080.50 557.20,1082.28 559.13,1082.43 557.66,1083.69 558.11,1085.57 556.46,1084.56 554.82,1085.57 555.26,1083.69 553.80,1082.43 555.72,1082.28" fill="#000"/>
<polygon points="561.86,1080.50 562.60,1082.28 564.53,1082.43 563.06,1083.69 563.51,1085.57 561.86,1084.56 560.22,1085.57 560.66,1083.69 559.20,1082.43 561.12,1082.28" fill="#000"/>
<polygon points="606.66,1080.50 607.40,1082.28 609.33,1082.43 607.86,1083.69 608.31,1085.57 606.66,1084.56 605.02,1085.57 605.46,1083.69 604.00,1082.43 605.92,1082.28" fill="#000"/>
<polygon points="612.06,1080.50 612.80,1082.28 614.73,1082.43 613.26,1083.69 613.71,1085.57 612.06,1084.56 610.42,1085.57 610.86,1083.69 609.40,1082.43 611.32,1082.28" fill="#000"/>
<polygon points="617.46,1080.50 618.20,1082.28 620.13,1082.43 618.66,1083.69 619.11,1085.57 617.46,1084.56 615.82,1085.57 616.26,1083.69 614.80,1082.43 616.72,1082.28" fill="#000"/>
<polygon points="622.86,1080.50 623.60,1082.28 625.53,1082.43 624.06,1083.69 624.51,1085.57 622.86,1084.56 621.22,1085.57 621.66,1083.69 620.20,1082.43 622.12,1082.28" fill="#000"/>
<text x="520.3" y="922.5" font-size="15.8" text-anchor="middle" font-weight="bold" >Blood MDSCs</text>
<text x="520.3" y="1155" font-size="18.6" text-anchor="middle" font-weight="normal" >Days After Innoculation</text>
<text transform="translate(360.5,1018) rotate(-90)" x="0" y="0" font-size="18.3" text-anchor="middle">Normalized (x10<tspan font-size="13.5" dy="-7.8">6</tspan><tspan dy="7.8">/mL)</tspan></text>
</svg>
</body></html>
